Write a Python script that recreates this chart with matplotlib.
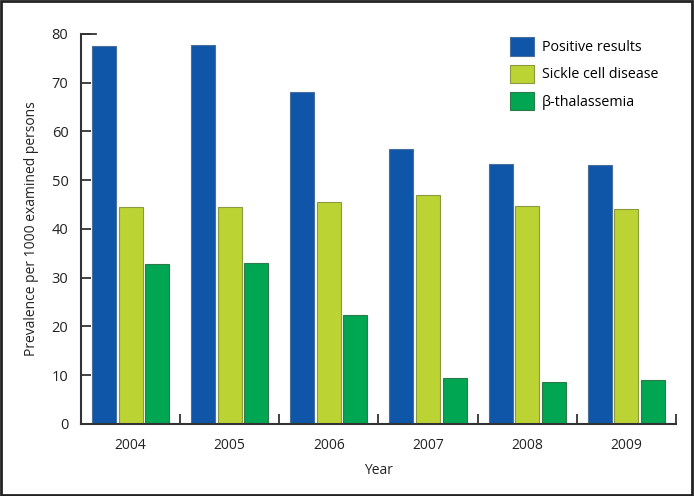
import numpy as np
import matplotlib
matplotlib.use('Agg')
import matplotlib.pyplot as plt
from matplotlib.patches import Patch

plt.rcParams['font.family'] = ['Open Sans', 'DejaVu Sans']

# Data
years = ['2004', '2005', '2006', '2007', '2008', '2009']
positive = [77.5, 77.7, 68.2, 56.5, 53.4, 53.1]
sickle = [44.5, 44.5, 45.6, 47.0, 44.8, 44.1]
thal = [32.8, 33.0, 22.4, 9.4, 8.6, 9.0]
series_names = ['Positive results', 'Sickle cell disease', 'β-thalassemia']
colors = ['#0f56a8', '#bcd433', '#00a651']
edges = ['#4a6f9a', '#8a9a40', '#2f7a4a']

fig = plt.figure(figsize=(6.94, 4.96), dpi=100)
ax = fig.add_axes([0.1167, 0.1452, 0.8573, 0.7863])

x = np.arange(len(years))
width = 0.242
step = 0.268
for k, vals in enumerate([positive, sickle, thal]):
    ax.bar(x + (k - 1) * step, vals, width, color=colors[k],
           edgecolor=edges[k], linewidth=0.8, label=series_names[k], zorder=2)

ax.set_xlim(-0.5, len(years) - 0.5)
ax.set_ylim(0, 80)
ax.set_yticks(range(0, 81, 10))
ax.set_xticks(x)
ax.set_xticklabels(years)
ax.set_xticks(x + 0.5, minor=True)
ax.tick_params(axis='x', which='major', length=0, pad=10, labelsize=10, colors='#222222')
ax.tick_params(axis='x', which='minor', direction='in', length=7, width=1.3, color='#333333')
ax.tick_params(axis='y', direction='in', length=7.5, width=1.3, color='#333333',
               pad=9, labelsize=10.5, labelcolor='#222222')
# longer cap at the top of the y axis
ax.axhline(80, xmin=0, xmax=0.025, color='#333333', linewidth=1.3, clip_on=False)

for s in ['top', 'right']:
    ax.spines[s].set_visible(False)
for s in ['left', 'bottom']:
    ax.spines[s].set_linewidth(1.5)
    ax.spines[s].set_color('#333333')

ax.set_xlabel('Year', fontsize=10, color='#222222', labelpad=7)
ax.set_ylabel('Prevalence per 1000 examined persons', fontsize=10, color='#222222', labelpad=9)

handles = [Patch(facecolor=colors[k], edgecolor=edges[k], linewidth=0.8) for k in range(3)]
ax.legend(handles, series_names, loc='upper left', bbox_to_anchor=(0.711, 1.006),
          frameon=False, fontsize=10.3, handlelength=1.7, handleheight=1.6,
          handletextpad=0.55, labelspacing=0.62, borderaxespad=0)

# outer frame around the figure
fig.patches.append(plt.Rectangle((0.002, 0.003), 0.995, 0.994, transform=fig.transFigure,
                                 fill=False, edgecolor='#222222', linewidth=2))

fig.savefig('out.png', dpi=100)
